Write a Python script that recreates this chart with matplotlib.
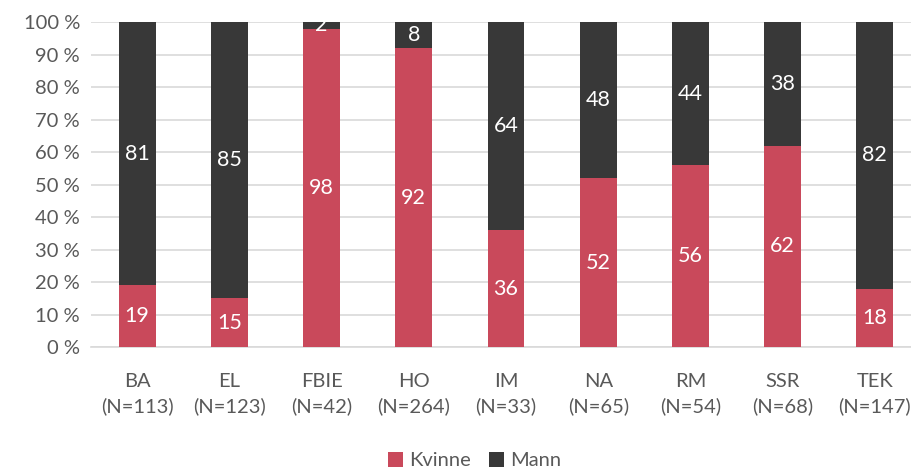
import matplotlib.pyplot as plt
import numpy as np

plt.rcParams['font.family'] = ['Lato', 'DejaVu Sans']

# data
categories = ["BA\n(N=113)", "EL\n(N=123)", "FBIE\n(N=42)", "HO\n(N=264)", "IM\n(N=33)",
              "NA\n(N=65)", "RM\n(N=54)", "SSR\n(N=68)", "TEK\n(N=147)"]
kvinne = [19, 15, 98, 92, 36, 52, 56, 62, 18]
mann = [81, 85, 2, 8, 64, 48, 44, 38, 82]

red = "#C9495B"
dark = "#383838"
grey_text = "#595959"

fig = plt.figure(figsize=(9.12, 4.68), dpi=100)
ax = fig.add_axes([0.0998, 0.2585, 0.910, 0.6944])

x = np.arange(len(categories))
w = 0.4
b1 = ax.bar(x, kvinne, w, color=red, label="Kvinne", zorder=3)
b2 = ax.bar(x, mann, w, bottom=kvinne, color=dark, label="Mann", zorder=3)

for i in range(len(x)):
    ax.text(x[i], kvinne[i] / 2, str(kvinne[i]), ha="center", va="center",
            color="white", fontsize=15.5, zorder=4)
    ax.text(x[i], kvinne[i] + mann[i] / 2, str(mann[i]), ha="center", va="center",
            color="white", fontsize=15.5, zorder=4)

ax.set_xlim(-0.5, len(categories) - 0.5)
ax.set_ylim(0, 100)
ax.set_yticks(np.arange(0, 101, 10))
ax.set_yticklabels([f"{v} %" for v in range(0, 101, 10)])
ax.set_xticks(x)
ax.set_xticklabels(categories, linespacing=1.45)
ax.tick_params(axis="both", length=0, labelsize=14.5, colors=grey_text)
ax.tick_params(axis="x", pad=19)
ax.tick_params(axis="y", pad=8)

ax.grid(axis="y", color="#D9D9D9", linewidth=1.2, zorder=0)
for s in ["top", "right", "left"]:
    ax.spines[s].set_visible(False)
ax.spines["bottom"].set_color("#D9D9D9")
ax.spines["bottom"].set_linewidth(1.2)

fig.legend(handles=[b1, b2], loc="center", bbox_to_anchor=(0.52, 0.016), ncol=2,
           frameon=False, fontsize=14.5, labelcolor=grey_text, handlelength=0.75,
           handleheight=0.75, handletextpad=0.3, columnspacing=0.9)

fig.savefig("out.png", dpi=100)
